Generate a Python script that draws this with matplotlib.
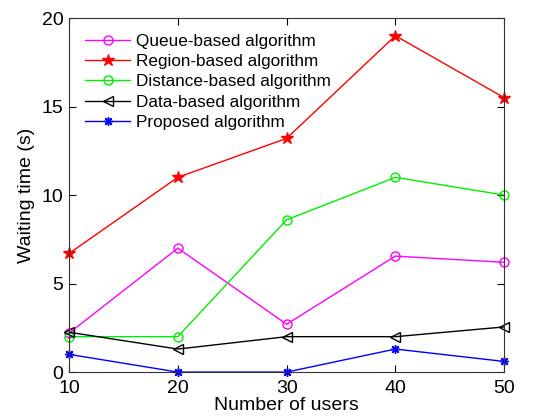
import matplotlib
matplotlib.use('Agg')
import matplotlib.pyplot as plt

plt.rcParams['font.family'] = ['Liberation Sans', 'DejaVu Sans']

users = [10, 20, 30, 40, 50]
queue = [2.2, 7.0, 2.7, 6.55, 6.2]
region = [6.7, 11.0, 13.2, 19.0, 15.5]
distance = [2.0, 2.0, 8.6, 11.0, 10.0]
data_based = [2.25, 1.3, 2.0, 2.0, 2.55]
proposed = [1.0, 0.0, 0.0, 1.3, 0.6]

fig = plt.figure(figsize=(5.48, 4.19), dpi=100)
ax = fig.add_axes([0.126, 0.112, 0.794, 0.845])

ax.plot(users, queue, color='#ff00ff', marker='o', mfc='none', ms=6.5, lw=1.0,
        label='Queue-based algorithm', clip_on=False)
ax.plot(users, region, color='#ff0000', marker='*', ms=9, lw=1.0,
        label='Region-based algorithm', clip_on=False)
ax.plot(users, distance, color='#00ee00', marker='o', mfc='none', ms=6.5, lw=1.0,
        label='Distance-based algorithm', clip_on=False)
ax.plot(users, data_based, color='black', marker='<', mfc='none', ms=6.5, lw=1.0,
        label='Data-based algorithm', clip_on=False)
ax.plot(users, proposed, color='#0000ff', marker=(8, 2, 0), ms=6.5, lw=1.0,
        label='Proposed algorithm', clip_on=False)

ax.set_xlim(10, 50)
ax.set_ylim(0, 20)
ax.set_xticks(users)
ax.set_yticks([0, 5, 10, 15, 20])
ax.tick_params(direction='in', top=True, right=True, labelsize=14, length=5)
ax.tick_params(axis='y', pad=4)
ax.tick_params(axis='x', pad=6)
for s in ax.spines.values():
    s.set_color('#333333')
ax.set_xlabel('Number of users', fontsize=14, labelpad=0)
ax.set_ylabel('Waiting time (s)', fontsize=14, labelpad=5)

ax.legend(loc='upper left', bbox_to_anchor=(0.01, 0.988), frameon=False,
          fontsize=12.3, handlelength=2.6, borderaxespad=0.3,
          labelspacing=0.3, handletextpad=0.35)

fig.savefig('out.png', dpi=100)
